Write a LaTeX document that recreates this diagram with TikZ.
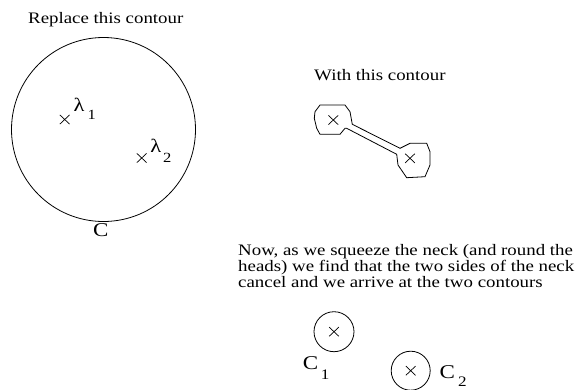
\documentclass[tikz,border=0pt]{standalone}
\usepackage{fontspec}
\setmainfont{Liberation Serif}[FakeStretch=1.18]
\usetikzlibrary{shapes.misc}
\begin{document}
\begin{tikzpicture}[x=1pt,y=-1pt,
  txt/.style={inner sep=0pt,anchor=base west,font=\fontsize{16}{16}\selectfont},
  lam/.style={inner sep=0pt,anchor=base west,font=\fontsize{19}{19}\selectfont},
  sub/.style={inner sep=0pt,anchor=base west,font=\fontsize{14}{14}\selectfont},
  big/.style={inner sep=0pt,anchor=base west,font=\fontsize{19.5}{19.5}\selectfont},
  xmark/.style={cross out,draw,line width=0.7pt,minimum width=9pt,minimum height=8.5pt,inner sep=0pt},
  ring/.style={circle,draw,line width=0.8pt,inner sep=0pt},
  cont/.style={draw,line width=0.8pt,line join=miter}]
\useasboundingbox (0,0) rectangle (582,389);

% left: big contour
\node[txt] (t1) at (28,23.3) {Replace this contour};
\node[ring,minimum size=184pt] (bigC) at (103.5,129.5) {};
\node[xmark] (x1) at (64.7,119.5) {};
\node[lam] (l1) at (73.5,111.7) {λ};
\node[sub] (s1) at (87.5,119.3) {1};
\node[xmark] (x2) at (141.7,158) {};
\node[lam] (l2) at (150.2,152) {λ};
\node[sub] (s2) at (163,162.5) {2};
\node[big,anchor=base] (cl) at (100.7,236) {C};

% right top: dumbbell contour
\node[txt] (t2) at (314,80) {With this contour};
\draw[cont] (352.3,124.3) -- (400,148.3) -- (410,143.3) -- (426.7,143.3) -- (430,151.7)
  -- (430,165) -- (425,176.7) -- (406.7,177.7) -- (398,165) -- (396.7,154.3)
  -- (346.7,128.3) -- (345,128.3) -- (340,134.3) -- (320,134.3) -- (316.7,128.3)
  -- (314.3,118.3) -- (315,111.7) -- (320,105) -- (345,105) -- (350,111.7) -- cycle;
\node[xmark] (x3) at (333.3,120) {};
\node[xmark] (x4) at (410,158.3) {};

% right bottom: text and two small contours
\node[txt] (p1) at (238,255) {Now, as we squeeze the neck (and round the};
\node[txt] (p2) at (238,271) {heads) we find that the two sides of the neck};
\node[txt] (p3) at (238,287) {cancel and we arrive at the two contours};

\node[ring,minimum size=40pt] (c1) at (334,331.7) {};
\node[xmark] (x5) at (c1.center) {};
\node[big] (c1l) at (302.7,369.3) {C};
\node[sub,font=\fontsize{14.5}{14.5}\selectfont] (c1s) at (320.7,379.3) {1};

\node[ring,minimum size=39pt] (c2) at (410.7,370.7) {};
\node[xmark] (x6) at (c2.center) {};
\node[big] (c2l) at (439.3,378.3) {C};
\node[sub,font=\fontsize{14.5}{14.5}\selectfont] (c2s) at (458,386) {2};
\end{tikzpicture}
\end{document}
